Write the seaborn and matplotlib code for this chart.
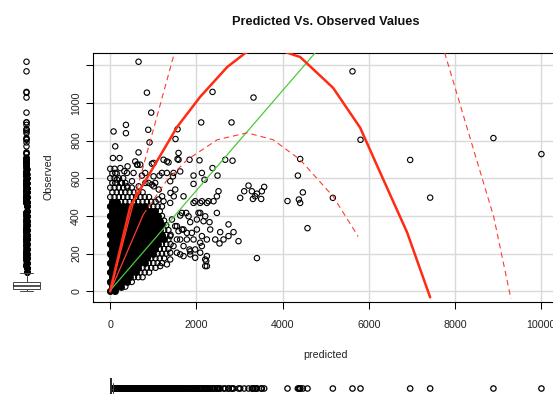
import numpy as np
import pandas as pd
import matplotlib
matplotlib.use("Agg")
import matplotlib.pyplot as plt
from matplotlib.path import Path
import seaborn as sns

# ---------------- data ----------------
# isolated / sparse points (predicted, observed)
pred_sparse = [657, 851, 2374, 3325, 951, 2111, 2815, 77, 364, 364, 882, 912, 1562, 1515,
               116, 1585, 1562, 63, 216, 657, 1840, 2072, 2668, 2838, 4408, 4355, 2374,
               2490, 2188, 1933, 1933, 1624, 1455, 1315, 1237, 1353, 580, 967, 402, 541,
               735, 967, 1005, 1144,
               3209, 3109, 3287, 3404, 3573, 3519, 3016, 3311, 3503, 3364,
               4114, 4378, 4408, 4470, 5166, 4578, 3404,
               5622, 5808, 6961, 7425, 8893, 10007,
               1624, 1763, 1856, 2011, 2165, 2304, 2475, 2745, 2861, 2977, 2745, 2552,
               2436, 2243, 2088, 1933, 1840, 1624, 1856, 2243, 2227, 2204, 2536, 2629,
               1701, 1547, 1779, 2011, 2320, 2088, 2243, 2088, 1933, 2475, 2397, 2513,
               1547, 1701, 1469, 1392, 1585, 1972, 2088, 1392, 1431,
               634, 696, 387, 812, 1315, 1005, 1585, 1199, 1470, 116, 271, 889, 1044,
               1392, 2127, 1508, 1701, 1121, 1237, 1392, 1972, 2127, 2281, 1663, 1817,
               2049, 2204, 1508, 1663, 1894, 2127, 1624, 1779, 1972, 2127, 1547, 1701,
               1856, 1392, 1160, 1315, 2204, 2243,
               622, 234, 327, 117, 156, 272, 389, 505, 660, 816, 1010, 1126, 1204, 1398,
               1475]
obs_sparse = [1218, 1054, 1058, 1028, 948, 896, 896, 848, 883, 839, 857, 790, 860, 808,
              769, 734, 702, 707, 707, 737, 698, 695, 698, 693, 702, 614, 654,
              614, 592, 614, 570, 636, 610, 628, 698, 684, 689, 677, 663, 628,
              614, 566, 610, 614,
              561, 531, 531, 518, 554, 531, 496, 490, 490, 504,
              479, 487, 469, 525, 496, 335, 176,
              1167, 804, 697, 497, 813, 728,
              402, 416, 367, 381, 372, 367, 416, 355, 314, 266, 293, 314,
              275, 275, 258, 275, 222, 196, 212, 187, 161, 134, 254, 275,
              328, 346, 310, 328, 328, 416, 469, 469, 469, 504, 478, 531,
              275, 240, 240, 205, 319, 178, 205, 293, 381,
              672, 672, 628, 628, 689, 681, 698, 628, 628, 575, 575, 575, 575,
              584, 628, 540, 504, 487, 478, 469, 478, 478, 478, 416, 398,
              416, 398, 346, 328, 310, 293, 275, 275, 222, 240, 205, 187,
              196, 169, 134, 143, 169, 134,
              672, 654, 637, 628, 593, 575, 557, 584, 557, 575, 557, 540, 504, 522,
              504]

# the dense black mass near the origin (predicted, observed), row by row
pred_dense = [
    0, 100,
    50, 150, 250, 350,
    0, 100, 200, 300, 400, 500,
    50, 150, 250, 350, 450, 550, 650, 750,
    0, 100, 200, 300, 400, 500, 600, 700, 800, 900,
    50, 150, 250, 350, 450, 550, 650, 750, 850, 950, 1050,
    0, 100, 200, 300, 400, 500, 600, 700, 800, 900, 1000, 1100, 1200,
    50, 150, 250, 350, 450, 550, 650, 750, 850, 950, 1050, 1150, 1250,
    0, 100, 200, 300, 400, 500, 600, 700, 800, 900, 1000, 1100, 1200, 1300,
    50, 150, 250, 350, 450, 550, 650, 750, 850, 950, 1050, 1150, 1250, 1350,
    0, 100, 200, 300, 400, 500, 600, 700, 800, 900, 1000, 1100, 1200, 1300, 1400,
    50, 150, 250, 350, 450, 550, 650, 750, 850, 950, 1050, 1150, 1250, 1350,
    0, 100, 200, 300, 400, 500, 600, 700, 800, 900, 1000, 1100, 1200, 1300, 1400,
    50, 150, 250, 350, 450, 550, 650, 750, 850, 950, 1050, 1150, 1250, 1350,
    0, 100, 200, 300, 400, 500, 600, 700, 800, 900, 1000, 1100, 1200, 1300,
    50, 150, 250, 350, 450, 550, 650, 750, 850, 950, 1050, 1150, 1250,
    0, 100, 200, 300, 400, 500, 600, 700, 800, 900, 1000, 1100, 1200,
    50, 150, 250, 350, 450, 550, 650, 750, 850, 950, 1050, 1150,
    0, 100, 200, 300, 400, 500, 600, 700, 800, 900, 1000, 1100, 1200,
    50, 150, 250, 350, 450, 550, 650, 750, 850, 950, 1050,
    0, 100, 200, 300, 400, 500, 600, 700, 800, 900,
    50, 150, 250, 350, 450, 550, 650, 750,
    0, 100, 200, 300, 400, 500,
    50, 150, 250, 350,
    0, 100, 200, 300,
    50, 150,
    0, 100,
]
obs_dense = [
    0, 0,
    25, 25, 25, 25,
    50, 50, 50, 50, 50, 50,
    75, 75, 75, 75, 75, 75, 75, 75,
    100, 100, 100, 100, 100, 100, 100, 100, 100, 100,
    125, 125, 125, 125, 125, 125, 125, 125, 125, 125, 125,
    150, 150, 150, 150, 150, 150, 150, 150, 150, 150, 150, 150, 150,
    175, 175, 175, 175, 175, 175, 175, 175, 175, 175, 175, 175, 175,
    200, 200, 200, 200, 200, 200, 200, 200, 200, 200, 200, 200, 200, 200,
    225, 225, 225, 225, 225, 225, 225, 225, 225, 225, 225, 225, 225, 225,
    250, 250, 250, 250, 250, 250, 250, 250, 250, 250, 250, 250, 250, 250, 250,
    275, 275, 275, 275, 275, 275, 275, 275, 275, 275, 275, 275, 275, 275,
    300, 300, 300, 300, 300, 300, 300, 300, 300, 300, 300, 300, 300, 300, 300,
    325, 325, 325, 325, 325, 325, 325, 325, 325, 325, 325, 325, 325, 325,
    350, 350, 350, 350, 350, 350, 350, 350, 350, 350, 350, 350, 350, 350,
    375, 375, 375, 375, 375, 375, 375, 375, 375, 375, 375, 375, 375,
    400, 400, 400, 400, 400, 400, 400, 400, 400, 400, 400, 400, 400,
    425, 425, 425, 425, 425, 425, 425, 425, 425, 425, 425, 425,
    450, 450, 450, 450, 450, 450, 450, 450, 450, 450, 450, 450, 450,
    475, 475, 475, 475, 475, 475, 475, 475, 475, 475, 475,
    500, 500, 500, 500, 500, 500, 500, 500, 500, 500,
    525, 525, 525, 525, 525, 525, 525, 525,
    550, 550, 550, 550, 550, 550,
    575, 575, 575, 575,
    600, 600, 600, 600,
    625, 625,
    650, 650,
]

# outline of the part of the mass where circles overlap into solid black
core_pred = [-50, -50, 500, 1070, 1300, 915, 530, 120]
core_obs = [-20, 480, 470, 435, 290, 166, 77, -20]

# fitted lines
fit_x = [0, 10015]
fit_y = [5, 2659]
smooth_x = [0, 23, 464, 928, 1555, 2088, 2715, 3132, 3620, 4130, 4408, 5174, 5800, 6265, 6891, 7425]
smooth_y = [0, 26, 450, 630, 873, 1032, 1190, 1264, 1310, 1264, 1243, 1079, 868, 630, 312, -32]
upper_x = [0, 620, 925, 1520]
upper_y = [0, 540, 795, 1290]
upper_right_x = [7760, 8433, 8898, 9300]
upper_right_y = [1267, 751, 397, -40]
lower_x = [0, 766, 1323, 1787, 2483, 3179, 3782, 4408, 5174, 5754]
lower_y = [0, 407, 592, 698, 804, 841, 804, 698, 503, 291]

# marginal box summaries
obs_box = dict(whislo=0, q1=10, med=30, q3=49, whishi=95)
pred_box = dict(whislo=0, q1=3, med=10, q3=25, whishi=70)

x_ticks = [0, 2000, 4000, 6000, 8000, 10000]
y_ticks = [0, 200, 400, 600, 800, 1000, 1200]
y_tick_labels = ["0", "200", "400", "600", "800", "1000", ""]

# ---------------- drawing ----------------
sns.set_style("white")
plt.rcParams['font.family'] = ['Liberation Sans', 'DejaVu Sans']

W, H = 553, 394
fig = plt.figure(figsize=(W / 100, H / 100), dpi=100)

def fx(px):
    return px / W

def fy(py):
    return 1 - py / H

XL = (-400, 10415)
YL = (-54, 1267)

pred = np.array(pred_sparse + pred_dense, dtype=float)
obs = np.array(obs_sparse + obs_dense, dtype=float)
pred_d = np.array(pred_dense, dtype=float)
obs_d = np.array(obs_dense, dtype=float)
obs_s = np.array(obs_sparse, dtype=float)
in_core = Path(np.c_[core_pred, core_obs]).contains_points(np.c_[pred_d, obs_d])

df_sparse = pd.DataFrame({"predicted": pred_sparse, "Observed": obs_sparse})
df_dense = pd.DataFrame({"predicted": pred_d, "Observed": obs_d})
df_core = df_dense[in_core]

ax = fig.add_axes([fx(93), fy(301.5), (559 - 93) / W, (301.5 - 52.5) / H])
ring = dict(marker="o", facecolor="none", edgecolor="black", legend=False)
disc = dict(marker="o", facecolor="black", edgecolor="black", legend=False)
sns.scatterplot(data=df_dense, x="predicted", y="Observed", ax=ax, zorder=3, s=15, linewidth=0.8, **ring)
sns.scatterplot(data=df_core, x="predicted", y="Observed", ax=ax, zorder=3, s=14, linewidth=1.2, **disc)
sns.scatterplot(data=df_sparse, x="predicted", y="Observed", ax=ax, zorder=3, s=15, linewidth=0.8, **ring)

red = "#FF2B12"
dred = "#FF3B30"
dash = (0, (5, 3.5))
sns.lineplot(x=fit_x, y=fit_y, ax=ax, color="#4DC93A", linewidth=0.9, estimator=None, sort=False, zorder=4)
sns.lineplot(x=smooth_x, y=smooth_y, ax=ax, color=red, linewidth=1.8, estimator=None, sort=False, zorder=5)
sns.lineplot(x=upper_x[:2], y=upper_y[:2], ax=ax, color=dred, linewidth=0.9, estimator=None, sort=False, zorder=5)
sns.lineplot(x=upper_x[1:], y=upper_y[1:], ax=ax, color=dred, linewidth=0.8, linestyle=dash,
             estimator=None, sort=False, zorder=5)
sns.lineplot(x=upper_right_x, y=upper_right_y, ax=ax, color=dred, linewidth=0.8, linestyle=dash,
             estimator=None, sort=False, zorder=5)
sns.lineplot(x=lower_x[:2], y=lower_y[:2], ax=ax, color=dred, linewidth=0.9, estimator=None, sort=False, zorder=5)
sns.lineplot(x=lower_x[1:], y=lower_y[1:], ax=ax, color=dred, linewidth=0.8, linestyle=dash,
             estimator=None, sort=False, zorder=5)

ax.set_xlim(*XL)
ax.set_ylim(*YL)
ax.set_xticks(x_ticks)
ax.set_xticklabels([str(t) for t in x_ticks])
ax.set_yticks(y_ticks)
ax.set_yticklabels(y_tick_labels)
ax.set_xlabel("")
ax.set_ylabel("")
ax.grid(True, color="#D9D9D9", linewidth=1.0)
ax.set_axisbelow(True)
for sp in ax.spines.values():
    sp.set_color("black")
    sp.set_linewidth(0.8)
ax.tick_params(axis="both", direction="out", length=5, width=0.75, color="black",
               labelsize=7.7, labelcolor="#222222", bottom=True, left=True)
ax.tick_params(axis="x", pad=8)
ax.tick_params(axis="y", pad=3.5, labelrotation=90)
for lab in ax.get_yticklabels():
    lab.set_va("center")

# left marginal boxplot (observed)
axl = fig.add_axes([0, fy(301.5), 60 / W, (301.5 - 52.5) / H])
box_style = dict(showfliers=False, patch_artist=True, manage_ticks=False,
                 boxprops=dict(facecolor="white", edgecolor="#444444", linewidth=0.7),
                 medianprops=dict(color="#222222", linewidth=1.1),
                 whiskerprops=dict(color="#444444", linewidth=0.7),
                 capprops=dict(color="#444444", linewidth=0.7))
axl.bxp([dict(obs_box, fliers=[])], positions=[26.5], widths=[27], orientation="vertical", **box_style)
obs_out_d = obs_d[obs_d > obs_box["whishi"]]
obs_out_s = obs_s[obs_s > obs_box["whishi"]]
sns.scatterplot(x=np.full(len(obs_out_d), 26.5), y=obs_out_d, ax=axl, s=12, linewidth=1.0, **disc)
sns.scatterplot(x=np.full(len(obs_out_s), 26.5), y=obs_out_s, ax=axl, s=15, linewidth=0.8, **ring)
axl.set_xlim(0, 60)
axl.set_ylim(*YL)
axl.axis("off")

# bottom marginal boxplot (predicted)
axb = fig.add_axes([fx(93), 0, (559 - 93) / W, 30 / H])
axb.bxp([dict(pred_box, fliers=[])], positions=[5.5], widths=[22], orientation="horizontal", **box_style)
pred_out = pred[pred > pred_box["whishi"]]
sns.scatterplot(x=pred_out, y=np.full(len(pred_out), 5.5), ax=axb, s=15, linewidth=0.9, **ring)
axb.set_xlim(*XL)
axb.set_ylim(0, 30)
axb.axis("off")

fig.text(fx(326), fy(21.7), "Predicted Vs. Observed Values", ha="center", va="center",
         fontsize=9.2, fontweight="bold", color="#111111")
fig.text(fx(326), fy(355), "predicted", ha="center", va="center", fontsize=7.7, color="#222222")
fig.text(fx(48), fy(177), "Observed", ha="center", va="center", rotation=90, fontsize=7.7, color="#222222")

fig.savefig("out.png", dpi=100)
